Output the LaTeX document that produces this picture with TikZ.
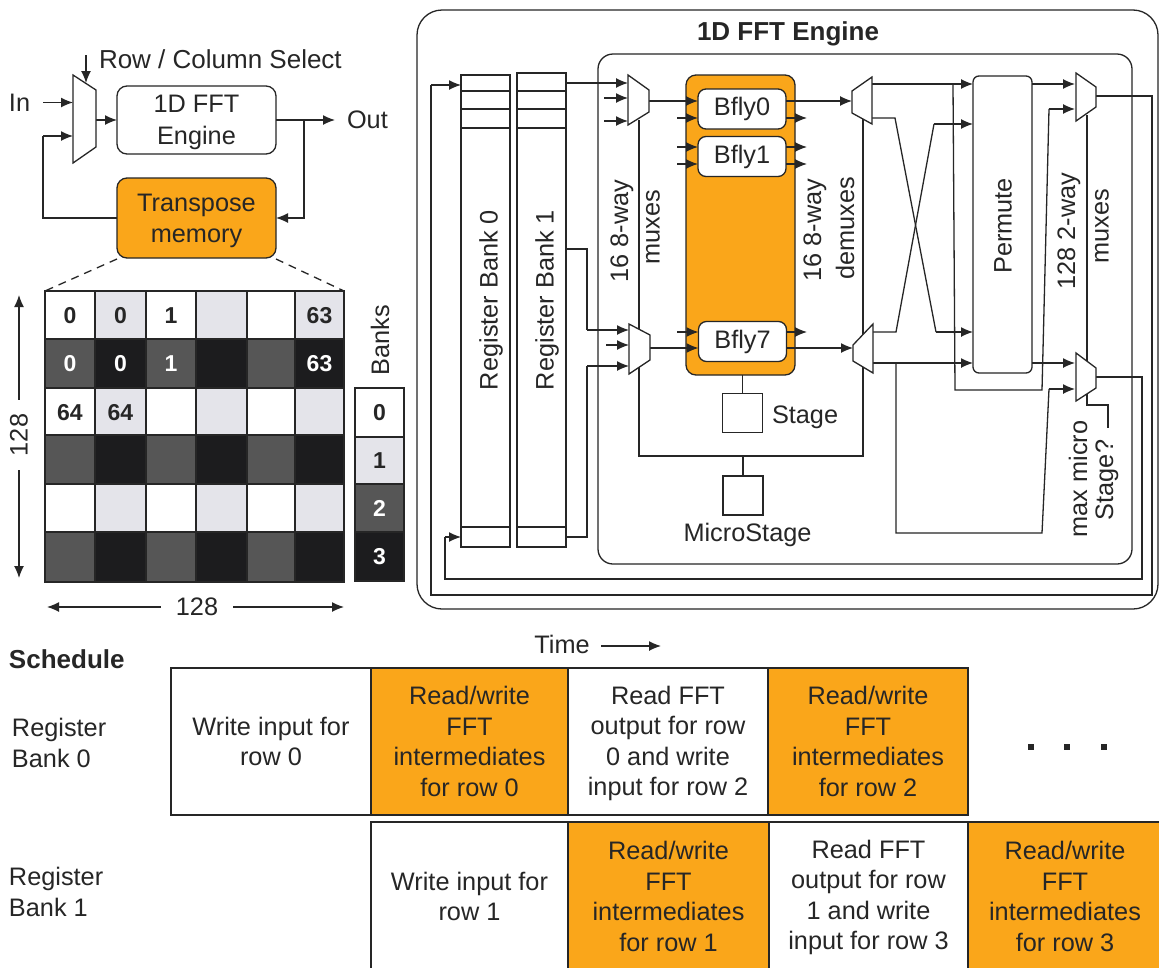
\documentclass[tikz,border=0pt]{standalone}
\usepackage{fontspec}
\setmainfont{Liberation Sans}
\usetikzlibrary{arrows.meta}
\definecolor{ink}{HTML}{262626}
\definecolor{orange1}{HTML}{FAA61A}
\definecolor{bkA}{HTML}{FFFFFF}
\definecolor{bkB}{HTML}{E4E4EA}
\definecolor{bkC}{HTML}{565656}
\definecolor{bkD}{HTML}{1C1C1E}
\tikzset{
  wire/.style={draw=ink,line width=1.3pt,line join=miter},
  arw/.style={wire,-{Latex[length=12pt,width=10pt]}},
  txt/.style={font=\fontsize{25.3}{30.4}\selectfont,text=ink,align=center,inner sep=0pt,outer sep=0pt},
  btxt/.style={font=\fontsize{26}{30}\selectfont\bfseries,text=ink,inner sep=0pt,outer sep=0pt},
  digit/.style={font=\fontsize{23}{26}\selectfont\bfseries,text=ink,inner sep=0pt,outer sep=0pt},
  vtxt/.style={txt,rotate=90},
  rbox/.style={txt,wire,fill=white,rounded corners=10pt},
  obox/.style={txt,wire,fill=orange1,rounded corners=10pt},
  bfly/.style={txt,wire,fill=white,rounded corners=8pt,minimum width=88pt,minimum height=40pt},
  sq/.style={wire,fill=white,inner sep=0pt,outer sep=0pt,minimum width=40pt,minimum height=39pt},
  muxst/.style={wire,fill=white,line join=miter},
  reg/.style={wire,fill=white,inner sep=0pt,outer sep=0pt},
  cell/.style={txt,draw=ink,line width=1.1pt},
  sch/.style={txt,wire,minimum height=147pt},
  dotn/.style={fill=ink,inner sep=0pt,outer sep=0pt,minimum size=6pt},
}
\begin{document}
\begin{tikzpicture}[x=1pt,y=-1pt]
\useasboundingbox (0,0) rectangle (1159,967);
\clip (0,0) rectangle (1159,967);
\fill[white] (0,0) rectangle (1159,967);

% ---------- left block ----------
\node[rbox,minimum width=159pt,minimum height=68pt] (engine) at (196.5,120) {};
\node[txt,font=\fontsize{25.3}{32}\selectfont] (enginet) at (196.5,122) {1D FFT\\Engine};
\node[obox,minimum width=159pt,minimum height=80pt] (tmem) at (196.5,218) {};
\node[txt] (tmemt) at (196.5,221) {Transpose\\memory};
\node[txt,anchor=west,font=\fontsize{26}{30}\selectfont] (selt) at (99,59) {Row / Column Select};
\node[txt,anchor=west] (int) at (9,103) {In};
\node[txt,anchor=west] (outt) at (347,120) {Out};
\coordinate (sel0) at (86,55);
\coordinate (sel1) at (86,83);
\coordinate (in0) at (43,102.5);
\coordinate (in1) at (73,102.5);
\coordinate (fb1) at (73,136);
\coordinate (fbc) at (43,136);
\coordinate (mo) at (96,120);
\coordinate (outp) at (335,120);
\coordinate (outb) at (304,120);
\coordinate (dl) at (45,291);
\coordinate (dr) at (344,291);
\draw[wire] (tmem.west) -- (tmem.west -| fbc) -- (fbc);
\draw[arw] (fbc) -- (fb1);
\draw[arw] (in0) -- (in1);
\draw[arw] (sel0) -- (sel1);
\draw[arw] (mo) -- (engine.west);
\draw[arw] (engine.east) -- (outp);
\draw[arw] (outb) |- (tmem.east);
\draw[muxst] (73,75) -- (96,90) -- (96,147) -- (73,163) -- cycle;
\draw[wire,dashed,dash pattern=on 8pt off 6pt] (tmem.south west) ++(0,1) -- (dl);
\draw[wire,dashed,dash pattern=on 8pt off 6pt] (tmem.south east) ++(0,1) -- (dr);

% ---------- memory grid ----------
\foreach \xa/\xb/\c in {45/95/0,95/146/1,146/196/0,196/247/1,247/295/0,295/344/1}
  \foreach \ya/\yb/\r in {291/339/0,339/388/1,388/435/0,435/484/1,484/532/0,532/582/1}{
    \pgfmathtruncatemacro{\bk}{\r*2+\c}
    \ifcase\bk\relax\def\bkcol{bkA}\or\def\bkcol{bkB}\or\def\bkcol{bkC}\or\def\bkcol{bkD}\fi
    \node[cell,fill=\bkcol,minimum width={(\xb-\xa)*1pt},minimum height={(\yb-\ya)*1pt}] (c\r\c\xa) at ({(\xa+\xb)/2},{(\ya+\yb)/2}) {};
  }
\node[digit] (d1) at (70,316) {0};
\node[digit] (d2) at (120.5,316) {0};
\node[digit] (d3) at (171,316) {1};
\node[digit] (d4) at (319.5,316) {63};
\node[digit,text=white] (d5) at (70,364) {0};
\node[digit,text=white] (d6) at (120.5,364) {0};
\node[digit,text=white] (d7) at (171,364) {1};
\node[digit,text=white] (d8) at (319.5,364) {63};
\node[digit] (d9) at (70,413) {64};
\node[digit] (d10) at (120.5,413) {64};
\node[vtxt] (t128v) at (19,435) {128};
\node[txt] (t128h) at (197,607) {128};
\coordinate (vt) at (19,295);
\coordinate (vb) at (19,578);
\coordinate (hl) at (47,607);
\coordinate (hr) at (344,607);
\draw[arw] (t128v.east) ++(0,-14) -- (vt);
\draw[arw] (t128v.west) ++(0,14) -- (vb);
\draw[arw] (t128h.west) ++(-15,0) -- (hl);
\draw[arw] (t128h.east) ++(15,0) -- (hr);
\node[vtxt] (bankst) at (380,340) {Banks};
\node[cell,fill=bkA,minimum width=49pt,minimum height=49pt] (bk0) at (379.5,412.5) {};
\node[cell,fill=bkB,minimum width=49pt,minimum height=47pt] (bk1) at (379.5,460.5) {};
\node[cell,fill=bkC,minimum width=49pt,minimum height=48pt] (bk2) at (379.5,508) {};
\node[cell,fill=bkD,minimum width=49pt,minimum height=49pt] (bk3) at (379.5,556.5) {};
\node[digit] at (bk0) {0};
\node[digit] at (bk1) {1};
\node[digit,text=white] at (bk2) {2};
\node[digit,text=white] at (bk3) {3};

% ---------- FFT engine frame ----------
\draw[wire,rounded corners=25pt] (417,10) rectangle (1158,609);
\draw[wire,rounded corners=15pt] (598,54) rectangle (1132,564);
\node[btxt] (title) at (788,34) {1D FFT Engine};

% register banks
\node[reg,minimum width=49pt,minimum height=472pt] (r0) at (485.5,311) {};
\node[reg,minimum width=49pt,minimum height=474pt] (r1) at (541.5,310) {};
\foreach \y in {91,109,128,527}{
  \draw[wire] (r0.west |- 0,\y) -- (r0.east |- 0,\y);
  \draw[wire] (r1.west |- 0,\y) -- (r1.east |- 0,\y);
}
\node[vtxt] (r0t) at (491,300) {Register Bank 0};
\node[vtxt] (r1t) at (547,300) {Register Bank 1};

% butterflies, stage
\node[obox,minimum width=109pt,minimum height=300pt] (panel) at (740.5,225) {};
\node[bfly] (b0) at (742,109) {Bfly0};
\node[bfly] (b1) at (742,156.5) {Bfly1};
\node[bfly] (b7) at (742.5,341.5) {Bfly7};
\node[sq] (stage) at (742.5,413) {};
\node[sq] (micro) at (743,495.5) {};
\node[txt,anchor=west] (staget) at (772,417) {Stage};
\node[txt] (microt) at (747.5,535) {MicroStage};
\node[rbox,rounded corners=6pt,minimum width=59pt,minimum height=297pt] (perm) at (1002.5,224.5) {};
\node[vtxt] (permt) at (1003,226) {Permute};

\node[vtxt] at (622,231) {16 8-way};
\node[vtxt] at (653,227) {muxes};
\node[vtxt] at (815,230) {16 8-way};
\node[vtxt] at (845,228) {demuxes};
\node[vtxt] at (1069,231) {128 2-way};
\node[vtxt] at (1102,226) {muxes};
\node[vtxt] at (1078,479) {max micro};
\node[vtxt] at (1107,480) {Stage?};

% pin coordinates
\coordinate (ma1) at (628,83);
\coordinate (ma2) at (628,98);
\coordinate (ma2s) at (604,98);
\coordinate (ma3) at (628,121);
\coordinate (ma3s) at (604,121);
\coordinate (mao) at (649,101);
\coordinate (mb1) at (629,330);
\coordinate (mb2) at (629,345);
\coordinate (mb2s) at (606,345);
\coordinate (mb3) at (629,366);
\coordinate (mbo) at (650,348);
\coordinate (da) at (852,101);
\coordinate (db) at (853,348);
\coordinate (seltop) at (639,120);
\coordinate (selc) at (639,456);
\coordinate (selr) at (863,456);
\coordinate (seld) at (863,118);
\coordinate (ra) at (566,249);
\coordinate (rb) at (566,537);
\coordinate (rx) at (587,330);
\coordinate (ry) at (587,366);
\coordinate (r0a) at (461,85);
\coordinate (r0b) at (461,537);
\coordinate (oa) at (1096,96);
\coordinate (ob) at (1096,377);
\coordinate (pa) at (973,84);
\coordinate (pb) at (973,124);
\coordinate (pc) at (973,332);
\coordinate (pd) at (973,363);
\coordinate (qa) at (1032,84);
\coordinate (qd) at (1032,363);
\coordinate (na1) at (1075,84);
\coordinate (na2) at (1075,109);
\coordinate (nb1) at (1075,363);
\coordinate (nb2) at (1075,389);
\coordinate (dao) at (872,84);
\coordinate (dbo) at (872,118);
\coordinate (dco) at (873,332);
\coordinate (ddo) at (873,363);
\coordinate (xa) at (895,118);
\coordinate (xb) at (936,332);
\coordinate (xc) at (896,332);
\coordinate (xd) at (934,124);
\coordinate (tap1) at (896,363);
\coordinate (tap1a) at (896,533);
\coordinate (tap1b) at (1042,533);
\coordinate (tap1c) at (1049,389);
\coordinate (tap2) at (953,84);
\coordinate (tap2a) at (955,390);
\coordinate (tap2b) at (1042,390);
\coordinate (tap2c) at (1049,109);
\coordinate (s2top) at (1087,115);
\coordinate (s2a) at (1087,405);
\coordinate (s2b) at (1108,405);
\coordinate (s2c) at (1108,428);

% wires
\coordinate (w1c) at (431,85);
\coordinate (w1d) at (431,595);
\coordinate (w1e) at (1152,595);
\coordinate (w1f) at (1152,96);
\draw[arw] (w1c) -- (r0a);
\draw[wire] (w1c) -- (w1d) -- (w1e) -- (w1f) -- (oa);
\coordinate (w2c) at (445,537);
\coordinate (w2d) at (445,579);
\coordinate (w2e) at (1142,579);
\coordinate (w2f) at (1142,377);
\draw[wire] (w2c) -- (w2d) -- (w2e) -- (w2f) -- (ob);
\draw[arw] (w2c) -- (r0b);

\draw[arw] (r1.east |- ma1) -- (ma1);
\draw[arw] (ma2s) -- (ma2);
\draw[arw] (ma3s) -- (ma3);
\draw[arw] (mb2s) -- (mb2);
\draw[wire] (ra) -- (ra -| rx) -- (rx);
\draw[arw] (rx) -- (mb1);
\draw[wire] (rb) -- (rb -| ry) -- (ry);
\draw[arw] (ry) -- (mb3);
\draw[arw] (mao) -- (b0.west |- mao);
\draw[arw] (mbo) -- (b7.west |- mbo);
\foreach \n/\y in {b0/118,b1/147,b1/164,b7/332}{
  \coordinate (stubi) at (677,\y);
  \draw[arw] (stubi) -- (\n.west |- stubi);
}
\foreach \n/\y in {b0/118,b1/147,b1/164,b7/332}{
  \coordinate (stubo) at (807,\y);
  \draw[arw] (\n.east |- stubo) -- (stubo);
}
\draw[arw] (b0.east |- da) -- (da);
\draw[arw] (b7.east |- db) -- (db);
\draw[wire] (seltop) -- (selc) -- (selr) -- (seld);
\draw[wire] (micro.north) -- (micro.north |- selc);
\draw[wire] (stage.north) -- (stage.north |- panel.south);
\draw[arw] (dao) -- (pa);
\draw[wire] (dbo) -- (xa) -- (xb);
\draw[arw] (xb) -- (pc);
\draw[wire] (dco) -- (xc) -- (xd);
\draw[arw] (xd) -- (pb);
\draw[arw] (ddo) -- (pd);
\draw[arw] (qa) -- (na1);
\draw[arw] (qd) -- (nb1);
\draw[wire] (tap1) -- (tap1a) -- (tap1b) -- (tap1c);
\draw[arw] (tap1c) -- (nb2);
\draw[wire] (tap2) -- (tap2a) -- (tap2b) -- (tap2c);
\draw[arw] (tap2c) -- (na2);
\draw[wire] (s2top) -- (s2a) -- (s2b) -- (s2c);

% muxes
\draw[muxst] (628,75) -- (649,90) -- (649,112) -- (628,125) -- cycle;
\draw[muxst] (629,324) -- (650,335) -- (650,360) -- (629,374) -- cycle;
\draw[muxst] (852,91) -- (872,77) -- (872,124) -- (852,113) -- cycle;
\draw[muxst] (853,345) -- (873,324) -- (873,373) -- (853,361) -- cycle;
\draw[muxst] (1076,73) -- (1096,87) -- (1096,107) -- (1076,121) -- cycle;
\draw[muxst] (1076,353) -- (1096,368) -- (1096,388) -- (1076,401) -- cycle;

% ---------- schedule ----------
\node[btxt,anchor=west] (schedt) at (9,659) {Schedule};
\node[txt,anchor=west,align=left] (rb0t) at (12,743) {Register\\Bank 0};
\node[txt,anchor=west,align=left] (rb1t) at (9,892) {Register\\Bank 1};
\node[txt] (timet) at (562,644) {Time};
\coordinate (tm0) at (601,646);
\coordinate (tm) at (661,646);
\draw[arw] (tm0) -- (tm);

\node[sch,fill=white,minimum width=200pt] (s00) at (271,741.5) {Write input for\\row 0};
\node[sch,fill=orange1,minimum width=197pt] (s01) at (469.5,741.5) {Read/write\\FFT\\intermediates\\for row 0};
\node[sch,fill=white,minimum width=200pt] (s02) at (668,741.5) {};
\node[txt] (s02t) at (668,743.5) {Read FFT\\output for row\\0 and write\\input for row 2};
\node[sch,fill=orange1,minimum width=200pt] (s03) at (868,741.5) {Read/write\\FFT\\intermediates\\for row 2};
\node[sch,fill=white,minimum width=197pt,minimum height=149pt] (s10) at (469.5,896.5) {Write input for\\row 1};
\node[sch,fill=orange1,minimum width=201pt,minimum height=149pt] (s11) at (668.5,896.5) {Read/write\\FFT\\intermediates\\for row 1};
\node[sch,fill=white,minimum width=199pt,minimum height=149pt] (s12) at (868.5,896.5) {};
\node[txt] (s12t) at (868.5,897.5) {Read FFT\\output for row\\1 and write\\input for row 3};
\node[sch,fill=orange1,minimum width=194pt,minimum height=149pt] (s13) at (1065,896.5) {Read/write\\FFT\\intermediates\\for row 3};
\node[dotn] (e1) at (1031,747) {};
\node[dotn] (e2) at (1067,747) {};
\node[dotn] (e3) at (1104,747) {};
\end{tikzpicture}
\end{document}
